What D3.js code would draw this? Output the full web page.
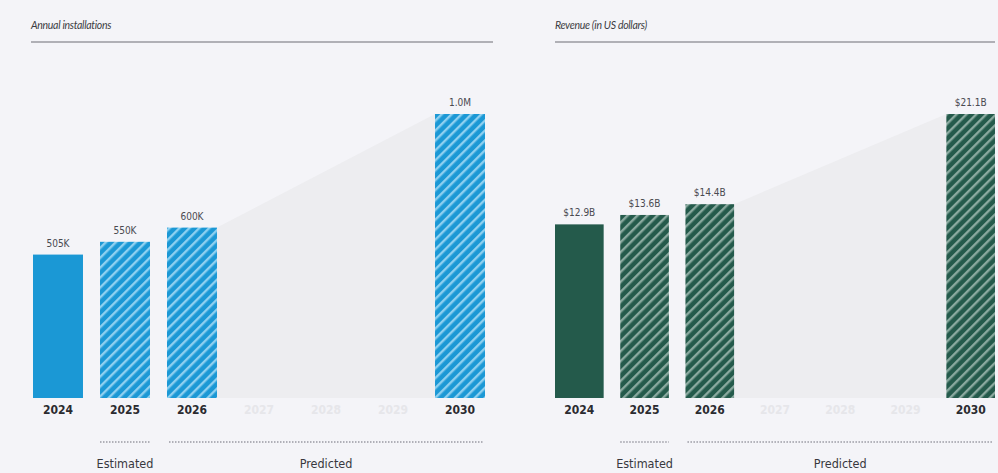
<!DOCTYPE html>
<html>
<head>
<meta charset="utf-8">
<script src="https://cdn.jsdelivr.net/npm/d3@7/dist/d3.min.js"></script>
<style>
  html, body { margin: 0; padding: 0; background: #f4f4f8; }
  svg { display: block; }
</style>
</head>
<body>
<svg id="chart" width="998" height="473"></svg>
<script>
// Category axis shared by both panels
const years = ["2024", "2025", "2026", "2027", "2028", "2029", "2030"];
const barYears = ["2024", "2025", "2026", "2030"];
const barStatus = ["actual", "estimated", "estimated", "predicted"];

// Annual installations
const installValues = [505000, 550000, 600000, 1000000];
const installLabels = ["505K", "550K", "600K", "1.0M"];

// Revenue, billions of US dollars
const revenueValues = [12.9, 13.6, 14.4, 21.1];
const revenueLabels = ["$12.9B", "$13.6B", "$14.4B", "$21.1B"];

const highlightYears = ["2024", "2025", "2026", "2030"];

const svg = d3.select("#chart");
const defs = svg.append("defs");

function hatch(id, base, stripe) {
  const p = defs.append("pattern")
    .attr("id", id)
    .attr("patternUnits", "userSpaceOnUse")
    .attr("width", 7).attr("height", 7)
    .attr("patternTransform", "rotate(45)");
  p.append("rect").attr("width", 7).attr("height", 7).attr("fill", base);
  p.append("rect").attr("x", 0).attr("width", 2.4).attr("height", 7).attr("fill", stripe);
}
hatch("hatch-blue", "#1b98d5", "#8ed0f0");
hatch("hatch-green", "#245a4b", "#8aa99f");

const condensed = "'DejaVu Sans Condensed', 'DejaVu Sans', sans-serif";

function panel(opts) {
  const g = svg.append("g");
  const baseY = 398, topY = 114;

  const x = d3.scaleBand().domain(years).range([opts.x0, opts.x1])
    .paddingInner(0.254).paddingOuter(0);
  const y = d3.scaleLinear().domain([0, opts.max]).range([baseY, topY]);

  // title and rule
  g.append("text")
    .attr("x", opts.titleX).attr("y", 29)
    .attr("font-family", "Lato, 'Open Sans', sans-serif")
    .attr("font-style", "italic").attr("font-size", 10.5)
    .attr("letter-spacing", -0.3)
    .attr("fill", "#3c3c42")
    .text(opts.title);
  g.append("line")
    .attr("x1", opts.titleX).attr("x2", opts.ruleX2)
    .attr("y1", 42).attr("y2", 42)
    .attr("stroke", "#9a9aa0").attr("stroke-width", 1.6);

  // projection wedge between the last estimate and the 2030 forecast
  const v26 = opts.values[2], v30 = opts.values[3];
  const wedge = [
    [x("2026") + x.bandwidth(), y(v26)],
    [x("2030"), y(v30)],
    [x("2030"), baseY],
    [x("2026") + x.bandwidth(), baseY]
  ];
  g.append("path")
    .attr("d", d3.line()(wedge) + "Z")
    .attr("fill", "#ededf0");

  // bars
  g.selectAll("rect.bar")
    .data(barYears.map((yr, i) => ({ yr, v: opts.values[i], status: barStatus[i] })))
    .join("rect")
    .attr("class", "bar")
    .attr("x", d => x(d.yr))
    .attr("width", x.bandwidth())
    .attr("y", d => y(d.v))
    .attr("height", d => baseY - y(d.v))
    .attr("fill", d => d.status === "actual" ? opts.solid : `url(#${opts.hatch})`);

  // value labels
  g.selectAll("text.val")
    .data(barYears.map((yr, i) => ({ yr, v: opts.values[i], label: opts.labels[i] })))
    .join("text")
    .attr("class", "val")
    .attr("x", d => x(d.yr) + x.bandwidth() / 2)
    .attr("y", d => y(d.v) - 8)
    .attr("text-anchor", "middle")
    .attr("font-family", condensed)
    .attr("font-size", 10)
    .attr("fill", "#4a4a50")
    .text(d => d.label);

  // year axis
  const axis = d3.axisBottom(x).tickSize(0).tickPadding(0);
  const ax = g.append("g").attr("transform", `translate(0,${baseY})`).call(axis);
  ax.select(".domain").remove();
  ax.selectAll("text")
    .attr("dy", 0).attr("y", 16)
    .attr("font-family", condensed)
    .attr("font-weight", "bold")
    .attr("font-size", 12)
    .attr("fill", d => highlightYears.includes(d) ? "#2b2b30" : "#e6e6ea");

  // period brackets
  const dotY = 442;
  const estX1 = x("2025"), estX2 = x("2025") + x.bandwidth();
  const preX1 = x("2026") + 2, preX2 = x("2030") + x.bandwidth() - 2;
  [[estX1, estX2], [preX1, preX2]].forEach(([a, b]) => {
    g.append("line")
      .attr("x1", a).attr("x2", b).attr("y1", dotY).attr("y2", dotY)
      .attr("stroke", "#9a9aa3").attr("stroke-width", 1.3)
      .attr("stroke-dasharray", "1.5,1.5");
  });
  const lab = (cx, t) => g.append("text")
    .attr("x", cx).attr("y", 468)
    .attr("text-anchor", "middle")
    .attr("font-family", condensed)
    .attr("font-size", 12.5)
    .attr("fill", "#38383e")
    .text(t);
  lab((estX1 + estX2) / 2, "Estimated");
  lab((preX1 + preX2) / 2, "Predicted");
}

panel({
  x0: 33, x1: 485, titleX: 31, ruleX2: 493, max: 1000000,
  title: "Annual installations",
  values: installValues, labels: installLabels,
  solid: "#1b98d5", hatch: "hatch-blue"
});

panel({
  x0: 555, x1: 995, titleX: 555, ruleX2: 995, max: 21.1,
  title: "Revenue (in US dollars)",
  values: revenueValues, labels: revenueLabels,
  solid: "#245a4b", hatch: "hatch-green"
});
</script>
</body>
</html>
